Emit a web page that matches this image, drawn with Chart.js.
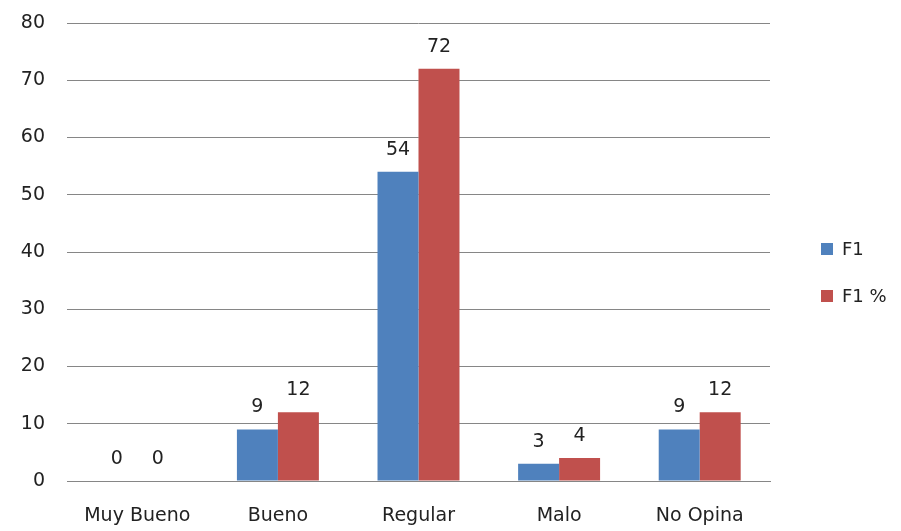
<!DOCTYPE html>
<html>
<head>
<meta charset="utf-8">
<script src="https://cdn.jsdelivr.net/npm/chart.js@4.4.1/dist/chart.umd.min.js"></script>
<style>
html,body{margin:0;padding:0;background:#fff;}
canvas{display:block;}
</style>
</head>
<body>
<canvas id="c" width="901" height="531"></canvas>
<script>
const categories = ["Muy Bueno", "Bueno", "Regular", "Malo", "No Opina"];
const seriesF1 = [0, 9, 54, 3, 9];
const seriesF1Pct = [0, 12, 72, 4, 12];
const seriesNames = ["F1", "F1 %"];
const yTicks = [0, 10, 20, 30, 40, 50, 60, 70, 80];

const FONT = "'DejaVu Sans', sans-serif";
const TEXT = "#222222";
const GRID = "#868686";

const dataLabels = {
  id: 'dataLabels',
  afterDatasetsDraw(chart) {
    const ctx = chart.ctx;
    ctx.save();
    ctx.font = "19px " + FONT;
    ctx.fillStyle = TEXT;
    ctx.textAlign = 'center';
    ctx.textBaseline = 'alphabetic';
    chart.data.datasets.forEach((ds, di) => {
      const meta = chart.getDatasetMeta(di);
      meta.data.forEach((el, i) => {
        ctx.fillText(String(ds.data[i]), el.x, el.y - 17);
      });
    });
    ctx.restore();
  }
};

const sideLegend = {
  id: 'sideLegend',
  afterDraw(chart) {
    const ctx = chart.ctx;
    ctx.save();
    ctx.font = "18px " + FONT;
    ctx.textBaseline = 'middle';
    ctx.textAlign = 'left';
    const centers = [249, 296];
    chart.data.datasets.forEach((ds, di) => {
      const cy = centers[di];
      ctx.fillStyle = ds.backgroundColor;
      ctx.fillRect(821, cy - 6, 12, 12);
      ctx.fillStyle = TEXT;
      ctx.fillText(ds.label, 842, cy + 1);
    });
    ctx.restore();
  }
};

new Chart(document.getElementById('c'), {
  type: 'bar',
  data: {
    labels: categories,
    datasets: [
      { label: seriesNames[0], data: seriesF1, backgroundColor: '#4F81BD' },
      { label: seriesNames[1], data: seriesF1Pct, backgroundColor: '#C0504D' }
    ]
  },
  options: {
    responsive: false,
    animation: false,
    layout: { padding: { left: 0, right: 131, top: 23, bottom: 0 } },
    datasets: { bar: { categoryPercentage: 0.583, barPercentage: 1.0 } },
    plugins: { legend: { display: false }, tooltip: { enabled: false } },
    scales: {
      x: {
        grid: { display: false, drawTicks: false },
        border: { display: true, color: GRID, width: 1 },
        ticks: { color: TEXT, font: { family: FONT, size: 19 }, padding: 24, maxRotation: 0 },
        afterFit(s) { s.height = 50; s.paddingLeft = 0; s.paddingRight = 0; }
      },
      y: {
        min: 0, max: 80,
        afterBuildTicks(s) { s.ticks = yTicks.map(v => ({ value: v })); },
        grid: { color: GRID, lineWidth: 1, drawTicks: false },
        border: { display: false },
        ticks: { color: TEXT, font: { family: FONT, size: 19 }, padding: 22 },
        afterFit(s) { s.width = 67; s.paddingTop = 0; s.paddingBottom = 0; }
      }
    }
  },
  plugins: [dataLabels, sideLegend]
});
</script>
</body>
</html>
